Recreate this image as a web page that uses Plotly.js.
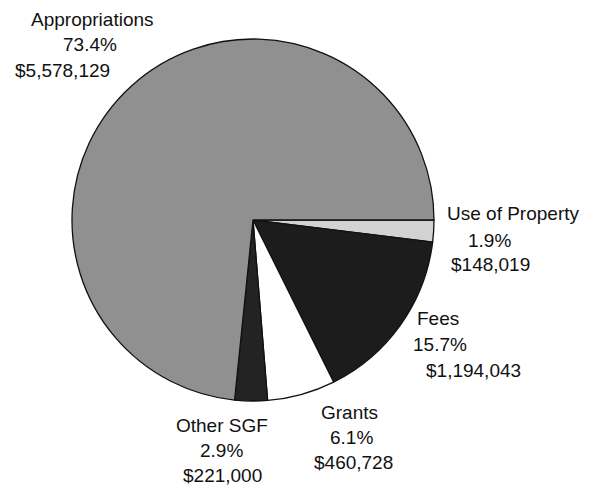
<!DOCTYPE html>
<html><head><meta charset="utf-8">
<script src="https://cdn.plot.ly/plotly-3.0.1.min.js"></script>
<style>html,body{margin:0;padding:0;background:#fff}</style>
</head><body><div id="chart" style="width:589px;height:487px"></div>
<script>
const categories = ["Use of Property", "Fees", "Grants", "Other SGF", "Appropriations"];
const amounts = [148019, 1194043, 460728, 221000, 5578129];
const percentLabels = ["1.9%", "15.7%", "6.1%", "2.9%", "73.4%"];
const amountLabels = ["$148,019", "$1,194,043", "$460,728", "$221,000", "$5,578,129"];
const colors = ["#d2d2d2", "#1c1c1c", "#ffffff", "#232323", "#909090"];

// label line positions in pixels: [name, percent, amount] centers
const labelPos = [
  [[513, 213], [489, 240], [490, 264]],
  [[438, 318], [440, 344], [473, 370]],
  [[349, 412], [351, 437], [353, 462]],
  [[222, 425], [221, 450], [222, 475]],
  [[92, 20], [90, 45], [62, 70]]
];
const W = 589, H = 487;
const annotations = [];
categories.forEach((c, i) => {
  const lines = [c, percentLabels[i], amountLabels[i]];
  lines.forEach((t, j) => {
    annotations.push({
      x: labelPos[i][j][0] / W, y: 1 - labelPos[i][j][1] / H, xref: "paper", yref: "paper",
      xanchor: "center", yanchor: "middle", showarrow: false, text: t,
      font: {family: "Liberation Sans, Arial, sans-serif", size: 19, color: "#111"}
    });
  });
});

const cx = 253, cy = 220, r = 181;
Plotly.newPlot("chart", [{
  type: "pie", labels: categories, values: amounts, sort: false,
  direction: "clockwise", rotation: 90, textinfo: "none", hoverinfo: "label+value+percent",
  marker: {colors: colors, line: {color: "#111", width: 1.3}},
  domain: {x: [(cx - r) / W, (cx + r) / W], y: [1 - (cy + r) / H, 1 - (cy - r) / H]},
  showlegend: false
}], {
  width: W, height: H, margin: {l: 0, r: 0, t: 0, b: 0},
  paper_bgcolor: "#fff", annotations: annotations, showlegend: false
}, {displayModeBar: false, staticPlot: true});
</script></body></html>
